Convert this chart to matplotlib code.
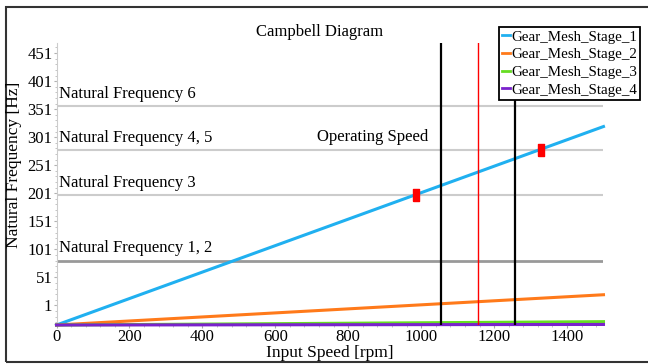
import matplotlib.pyplot as plt
from matplotlib.patches import Rectangle
from matplotlib.ticker import MultipleLocator

# data
speed = [0, 1500]
stage1 = [-35, 319]
stage2 = [-35, 19]
stage3 = [-35, -29]
stage4 = [-35, -34]
stage_names = ['Gear_Mesh_Stage_1', 'Gear_Mesh_Stage_2', 'Gear_Mesh_Stage_3', 'Gear_Mesh_Stage_4']

nf_values = [80, 196, 277, 356]
nf_labels = ['Natural Frequency 1, 2', 'Natural Frequency 3', 'Natural Frequency 4, 5', 'Natural Frequency 6']

limit_speeds = [1055, 1257]
operating_speed = 1157
crossing_speed = [986, 1328]
crossing_freq = [196, 277]

y_ticks = [1, 51, 101, 151, 201, 251, 301, 351, 401, 451]
x_ticks = [0, 200, 400, 600, 800, 1000, 1200, 1400]

plt.rcParams['font.family'] = ['Liberation Serif', 'DejaVu Serif']

fig = plt.figure(figsize=(6.48, 3.64), dpi=100)
ax = fig.add_axes([0.0872, 0.1071, 0.8441, 0.7748])

# natural frequency lines
for i, (v, lab) in enumerate(zip(nf_values, nf_labels)):
    if i == 0:
        ax.axhline(v, color='#999999', lw=2, zorder=1)
    else:
        ax.axhline(v, color='#cccccc', lw=1.5, zorder=1)
    ax.annotate(lab, (0, v), xytext=(2, 3), textcoords='offset points',
                fontsize=12, va='bottom', ha='left')

colors = ['#20b0f0', '#ff7a1a', '#66dd22', '#7a22cc']
for ys, name, c in zip([stage1, stage2, stage3, stage4], stage_names, colors):
    ax.plot(speed, ys, color=c, lw=2.2, label=name, clip_on=False, zorder=3)

for s in limit_speeds:
    ax.axvline(s, color='black', lw=1.6, zorder=4)
ax.axvline(operating_speed, color='red', lw=1, zorder=4)

# red markers where stage 1 crosses natural frequencies
bar = [(-0.5, -1), (0.5, -1), (0.5, 1), (-0.5, 1), (-0.5, -1)]
ax.plot(crossing_speed, crossing_freq, ls='none', marker=bar, markersize=9,
        color='red', zorder=5)

ax.text(714, 300, 'Operating Speed', fontsize=12, va='center', ha='left')

ax.set_xlim(0, 1500)
ax.set_ylim(-35, 468)
ax.set_xticks(x_ticks)
ax.set_yticks(y_ticks)
ax.xaxis.set_minor_locator(MultipleLocator(40))
ax.yaxis.set_minor_locator(MultipleLocator(10))
ax.tick_params(axis='both', labelsize=12, length=2, width=0.8, color='#aaaaaa')
ax.tick_params(axis='both', which='minor', length=1.5, width=0.6, color='#bbbbbb')
ax.tick_params(axis='y', pad=1)
ax.tick_params(axis='x', pad=1)

for sp in ['top', 'right']:
    ax.spines[sp].set_visible(False)
ax.spines['left'].set_color('#cccccc')
ax.spines['bottom'].set_color('#444444')
ax.spines['bottom'].set_linewidth(1.2)

fig.text(320 / 648, 1 - 32 / 364, 'Campbell Diagram', fontsize=12, ha='center', va='center')
fig.text(330 / 648, 1 - 353 / 364, 'Input Speed [rpm]', fontsize=12.5, ha='center', va='center')
fig.text(14 / 648, 1 - 165 / 364, 'Natural Frequency [Hz]', fontsize=12.5, ha='center',
         va='center', rotation=90)

leg = fig.legend(loc='upper right', bbox_to_anchor=(640 / 648, 1 - 27 / 364),
                 fontsize=10.8, handlelength=0.5, handletextpad=0.1,
                 borderpad=0.2, labelspacing=0.28, fancybox=False,
                 framealpha=1, borderaxespad=0)
leg.get_frame().set_edgecolor('black')
leg.get_frame().set_linewidth(1.3)
for h in leg.get_lines():
    h.set_linewidth(2)

# outer frame
fig.patches.append(Rectangle((6 / 648, 2 / 364), 1.0, 1 - 9 / 364,
                             transform=fig.transFigure, fill=False,
                             edgecolor='#333333', lw=1.5))

fig.savefig('out.png', dpi=100)
